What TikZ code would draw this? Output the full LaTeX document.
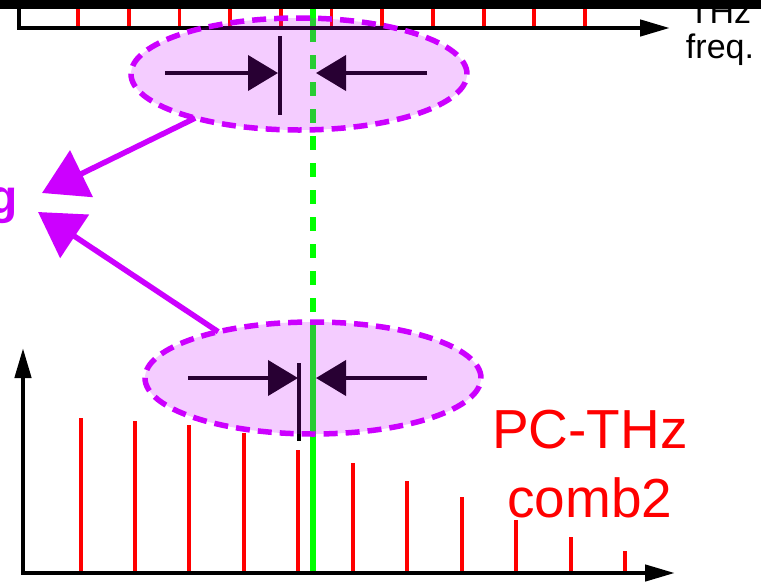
\documentclass[tikz,border=0pt]{standalone}
\usepackage{fontspec}
\setmainfont{Liberation Sans}
\usetikzlibrary{arrows.meta,shapes.geometric}
\definecolor{tunepurple}{HTML}{CC00FF}
\definecolor{beatgreen}{HTML}{00FF00}
\definecolor{combred}{HTML}{FF0000}
\begin{document}
\begin{tikzpicture}[x=1pt,y=-1pt,
  axis/.style={line width=4.5pt},
  tooth/.style={combred,line width=3.8pt},
  beat/.style={beatgreen,line width=5.5pt},
  zone/.style={ellipse,draw=tunepurple,fill=tunepurple,fill opacity=0.2,draw opacity=1,
    line width=5.5pt,dash pattern=on 14pt off 8pt,minimum width=336pt,minimum height=112pt,
    inner sep=0pt,outer sep=0pt},
  squeeze/.style={line width=4pt,-{Triangle[length=30pt,width=35pt]}},
  marker/.style={line width=3.5pt},
  link/.style={tunepurple,line width=5.5pt,-{Triangle[length=44pt,width=51pt]}},
]
\useasboundingbox (0,0) rectangle (761,582);
\fill[white] (0,0) rectangle (761,582);

% upper comb teeth
\foreach \i in {0,...,10}
  \draw[tooth] ({78+50.7*\i},9) -- ({78+50.7*\i},27);

% lower comb (PC-THz comb2) teeth: x / top
\foreach \x/\t in {81/418,135/421,189/425,244/433,298/450,353/463,407/481,462/497,516/520,571/537,625/551}
  \draw[tooth] (\x,\t) -- (\x,572);

% beat line between the two combs
\draw[beat] (313,0) -- (313,28);
\draw[beat,dash pattern=on 14pt off 13pt] (313,28) -- (313,322);
\draw[beat] (313,322) -- (313,573);

% frequency axes
\coordinate (topcorner) at (19,28);
\coordinate (topend) at (670,28);
\draw[axis,-{Triangle[length=30pt,width=16pt]}] (19,9) -- (topcorner) -- (topend);
\coordinate (botcorner) at (23,573);
\coordinate (botup) at (23,348);
\coordinate (botend) at (675,573);
\draw[axis,{Triangle[length=30pt,width=16pt]}-{Triangle[length=30pt,width=16pt]}] (botup) -- (botcorner) -- (botend);

% locking markers
\draw[marker] (280,36) -- (280,115);
\draw[squeeze] (165,73) -- (278,73);
\draw[squeeze] (427,73) -- (316,73);
\draw[marker] (299,363) -- (299,441);
\draw[squeeze] (188,378) -- (298,378);
\draw[squeeze] (427,378) -- (316,378);

% highlighted regions
\node[zone] (upper) at (299,74) {};
\node[zone] (lower) at (313,378) {};

% feedback arrows
\coordinate (tipA) at (42,193);
\coordinate (tipB) at (38,212);
\draw[link] (upper.203) -- (tipA);
\draw[link] (lower.154) -- (tipB);

% labels (a multi-line node's base is its last line)
\node[anchor=base,inner sep=0pt,font=\fontsize{34}{35}\selectfont,align=center] (unit) at (720,58) {THz\\freq.};
\node[anchor=base east,inner sep=0pt,text=tunepurple,font=\bfseries\fontsize{48}{58}\selectfont] (tail) at (18,213) {g};
\node[anchor=base,inner sep=0pt,text=combred,font=\fontsize{55}{69}\selectfont,align=center] (combname) at (590,517) {PC-THz\\comb2};

% dark band along the top edge
\fill[black] (0,0) rectangle (761,9);
\end{tikzpicture}
\end{document}
